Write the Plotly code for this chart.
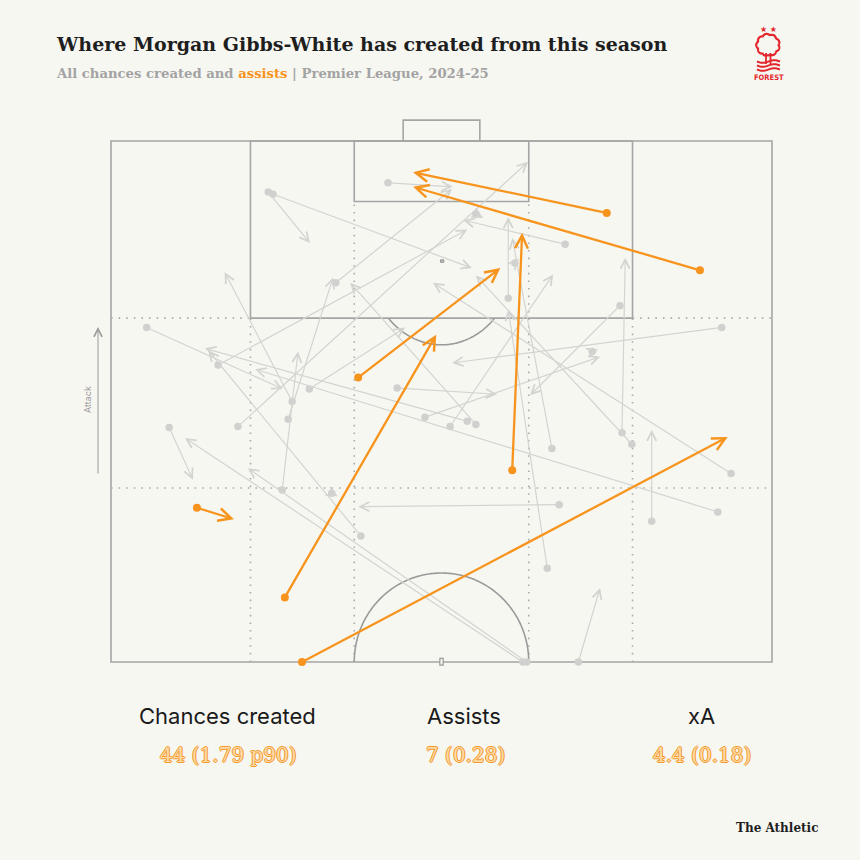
import numpy as np
import plotly.graph_objects as go

# ---------------- DATA (Opta-style pitch coords: x 0-100 across, y 50-100 towards goal) -------------
# All chances created (non-assists): origin -> destination
chance_x0 = [23.8, 24.5, 41.9, 34.0, 19.2, 55.2, 68.7, 60.1, 66.7, 77.3, 51.3, 93.8, 55.2, 26.8, 27.4, 25.9,
             16.2, 5.4, 37.8, 91.8, 8.8, 62.3, 62.9, 67.8, 33.4, 92.4, 47.5, 43.3, 30.0, 72.8, 77.0, 78.8,
             53.9, 66.0, 81.8, 70.7, 61.1]
chance_y0 = [95.1, 94.9, 96.0, 86.4, 72.6, 93.0, 90.1, 84.9, 70.5, 72.0, 72.6, 68.1, 72.8, 73.3, 75.0, 66.5,
             78.5, 82.1, 62.1, 64.4, 72.5, 50.0, 50.0, 65.1, 66.2, 82.1, 73.5, 76.3, 76.2, 79.8, 84.2, 70.9,
             73.1, 59.0, 63.5, 50.0, 88.3]
chance_x1 = [30.1, 54.6, 51.7, 51.6, 63.1, 56.3, 53.3, 60.1, 60.7, 77.8, 66.9, 48.7, 36.2, 33.6, 17.2, 28.3,
             53.9, 26.0, 14.7, 21.8, 12.4, 11.2, 20.7, 37.4, 34.3, 51.6, 74.0, 58.4, 44.5, 73.7, 63.4, 55.2,
             14.2, 60.1, 81.8, 74.0, 61.7]
chance_y1 = [90.2, 87.8, 95.6, 95.4, 98.0, 92.6, 92.4, 92.7, 90.7, 88.8, 87.2, 86.4, 86.4, 86.9, 87.4, 79.8,
             91.5, 76.2, 79.9, 78.1, 67.5, 71.5, 68.6, 64.9, 65.9, 78.7, 79.3, 75.7, 82.1, 80.0, 75.6, 87.1,
             80.1, 83.8, 72.3, 57.1, 88.7]

# Assists: origin -> destination
assist_x0 = [75.0, 89.1, 37.4, 26.3, 60.7, 13.0, 28.9]
assist_y0 = [93.1, 87.6, 77.3, 56.2, 68.4, 64.8, 50.0]
assist_x1 = [45.7, 45.7, 58.9, 49.2, 62.2, 18.6, 93.3]
assist_y1 = [97.0, 95.6, 87.8, 81.4, 91.2, 63.7, 71.6]

stat_labels = ["Chances created", "Assists", "xA"]
stat_values = ["44 (1.79 p90)", "7 (0.28)", "4.4 (0.18)"]

title_text = "Where Morgan Gibbs-White has created from this season"
subtitle_parts = ["All chances created and ", "assists", " | Premier League, 2024-25"]

# ---------------- STYLE -------------
BG = "#f7f7f2"
ORANGE = "#f7941d"
GREY_LINE = "#d3d3d1"
GREY_DOT = "#d0d0ce"
PITCH = "#a5a5a5"
RED = "#e3262d"
W, H = 860, 860
OFF = 8  # page body margin in the browser

# axis mapping so the pitch sits at window pixels x 111..772, y 141..662
SX, SY = 6.61, 10.42
XR = [-(111 - OFF) / SX, (W - (111 - OFF)) / SX]
YR = [100 - (H - (141 - OFF)) / SY, 100 + (141 - OFF) / SY]

def px(xp):
    return (xp - OFF) / W

def py(yp):
    return 1 - (yp - OFF) / H

fig = go.Figure()

shapes = []
line_solid = dict(color=PITCH, width=1.6)
line_dot = dict(color="#ababab", width=1.6, dash="1.6px,6px")

# outer pitch + boxes + goal
shapes.append(dict(type="rect", x0=0, x1=100, y0=50, y1=100, line=line_solid, layer="below"))
shapes.append(dict(type="rect", x0=21.1, x1=78.9, y0=83, y1=100, line=line_solid, layer="below"))
shapes.append(dict(type="rect", x0=36.8, x1=63.2, y0=94.2, y1=100, line=line_solid, layer="below"))
shapes.append(dict(type="path", path="M 44.2,100 L 44.2,102 L 55.8,102 L 55.8,100",
                   line=line_solid, layer="below"))

# dotted zone lines
for seg in [((0, 83), (21.1, 83)), ((78.9, 83), (100, 83)), ((0, 66.7), (100, 66.7)),
            ((21.1, 50), (21.1, 83)), ((78.9, 50), (78.9, 83)),
            ((36.8, 50), (36.8, 94.2)), ((63.2, 50), (63.2, 94.2))]:
    (a, b), (c, d) = seg
    shapes.append(dict(type="line", x0=a, y0=b, x1=c, y1=d, line=line_dot, layer="below"))

# penalty arc (D)
t = np.linspace(0, np.pi, 200)
ax_ = 50 + 11.0 * np.cos(t)
ay_ = 88.5 - 8.06 * np.sin(t)
m = ay_ <= 83
pts = list(zip(ax_[m], ay_[m]))
shapes.append(dict(type="path", path="M " + " L ".join(f"{a:.3f},{b:.3f}" for a, b in pts),
                   line=dict(color="#9a9a9a", width=1.6), layer="below"))
# centre circle (upper half)
cx = 50 + 13.2 * np.cos(t)
cy = 50 + 8.54 * np.sin(t)
shapes.append(dict(type="path", path="M " + " L ".join(f"{a:.3f},{b:.3f}" for a, b in zip(cx, cy)),
                   line=dict(color="#9a9a9a", width=1.6), layer="below"))
# penalty spot and centre spot markers
shapes.append(dict(type="rect", x0=49.85, x1=50.35, y0=88.35, y1=88.6, line=dict(color="#999", width=1),
                   fillcolor="#bbb", layer="below"))
shapes.append(dict(type="rect", x0=49.75, x1=50.25, y0=49.7, y1=50.35, line=dict(color="#999", width=1.2),
                   fillcolor=BG, layer="above"))

# ---------------- Logo (Nottingham Forest crest, simplified) -------------
th = np.linspace(0, 2 * np.pi, 241)
rr = 10.5 + 1.3 * np.abs(np.sin(4.5 * th))
lx = 768 + rr * np.cos(th)
ly = 45 - rr * np.sin(th) * 0.95
crown = [(a, b) for a, b in zip(lx, ly) if b < 55.5]
shapes.append(dict(type="path", xref="paper", yref="paper",
                   path="M " + " L ".join(f"{px(a):.5f},{py(b):.5f}" for a, b in crown) + " Z",
                   line=dict(color=RED, width=2.2), fillcolor=BG, layer="above"))
for xx in (766, 770.5):
    shapes.append(dict(type="line", xref="paper", yref="paper", x0=px(xx), x1=px(xx), y0=py(53), y1=py(64),
                       line=dict(color=RED, width=1.8), layer="above"))
for yy in (61.5, 65.5, 69.5):
    wx = np.linspace(757, 780, 30)
    wy = yy + 1.3 * np.sin((wx - 757) / 23 * 2 * np.pi)
    shapes.append(dict(type="path", xref="paper", yref="paper",
                       path="M " + " L ".join(f"{px(a):.5f},{py(b):.5f}" for a, b in zip(wx, wy)),
                       line=dict(color=RED, width=2), layer="above"))

# ---------------- Chance traces -------------
fig.add_trace(go.Scatter(x=chance_x0, y=chance_y0, mode="markers",
                         marker=dict(color=GREY_DOT, size=7.5, line=dict(width=0)),
                         hoverinfo="skip", showlegend=False))

annotations = []
for x0, y0, x1, y1 in zip(chance_x0, chance_y0, chance_x1, chance_y1):
    annotations.append(dict(x=x1, y=y1, ax=x0, ay=y0, xref="x", yref="y", axref="x", ayref="y",
                            text="", showarrow=True, arrowhead=5, arrowsize=1.5, arrowwidth=1.2,
                            arrowcolor=GREY_LINE, standoff=0, startstandoff=0))
for x0, y0, x1, y1 in zip(assist_x0, assist_y0, assist_x1, assist_y1):
    annotations.append(dict(x=x1, y=y1, ax=x0, ay=y0, xref="x", yref="y", axref="x", ayref="y",
                            text="", showarrow=True, arrowhead=5, arrowsize=1.1, arrowwidth=2.3,
                            arrowcolor=ORANGE, standoff=0, startstandoff=0))

fig.add_trace(go.Scatter(x=assist_x0, y=assist_y0, mode="markers",
                         marker=dict(color=ORANGE, size=8, line=dict(width=0)),
                         hoverinfo="skip", showlegend=False))

# ---------------- Text -------------
annotations.append(dict(xref="paper", yref="paper", x=px(54), y=py(44), xanchor="left", yanchor="middle",
                        text="<b>" + title_text + "</b>", showarrow=False,
                        font=dict(family="DejaVu Serif", size=19, color="#1e1e1e")))
annotations.append(dict(xref="paper", yref="paper", x=px(54), y=py(73), xanchor="left", yanchor="middle",
                        text="<b>" + subtitle_parts[0] + f"<span style='color:{ORANGE}'>" + subtitle_parts[1]
                             + "</span>" + subtitle_parts[2] + "</b>",
                        showarrow=False, font=dict(family="DejaVu Serif", size=13.2, color="#a3a3a3")))

# Logo text
annotations.append(dict(xref="paper", yref="paper", x=px(768), y=py(30), xanchor="center", yanchor="middle",
                        text="★ ★", showarrow=False, font=dict(family="DejaVu Sans", size=8, color=RED)))
annotations.append(dict(xref="paper", yref="paper", x=px(768.5), y=py(77), xanchor="center", yanchor="middle",
                        text="<b>FOREST</b>", showarrow=False,
                        font=dict(family="DejaVu Sans Condensed", size=7.5, color=RED)))

# Attack indicator
annotations.append(dict(xref="paper", yref="paper", x=px(98), y=py(327), axref="pixel", ayref="pixel",
                        ax=0, ay=148, text="", showarrow=True, arrowhead=5, arrowsize=1.6, arrowwidth=1,
                        arrowcolor="#9a9a9a", standoff=0))
annotations.append(dict(xref="paper", yref="paper", x=px(88), y=py(400), xanchor="center", yanchor="middle",
                        text="Attack", textangle=-90, showarrow=False,
                        font=dict(family="Inter", size=9, color="#9a9a9a")))

# Stats
stat_x = [227, 464, 701]
for sx, lab, val in zip(stat_x, stat_labels, stat_values):
    annotations.append(dict(xref="paper", yref="paper", x=px(sx), y=py(716), xanchor="center",
                            yanchor="middle", text=lab, showarrow=False,
                            font=dict(family="Inter", size=22, color="#1a1a1a")))
    annotations.append(dict(xref="paper", yref="paper", x=px(sx + 1), y=py(755), xanchor="center",
                            yanchor="middle", text=val, showarrow=False,
                            font=dict(family="DejaVu Serif", size=20, color="#fcd9a6",
                                      shadow="1px 0 0 #f59a2c, -1px 0 0 #f59a2c, 0 1px 0 #f59a2c, 0 -1px 0 #f59a2c")))

annotations.append(dict(xref="paper", yref="paper", x=px(820), y=py(828), xanchor="right", yanchor="middle",
                        text="<b>The Athletic</b>", showarrow=False,
                        font=dict(family="DejaVu Serif", size=12, color="#1e1e1e")))

fig.update_layout(
    width=W, height=H, autosize=False,
    margin=dict(l=0, r=0, t=0, b=0, pad=0),
    paper_bgcolor=BG, plot_bgcolor=BG,
    xaxis=dict(range=XR, visible=False, fixedrange=True),
    yaxis=dict(range=YR, visible=False, fixedrange=True),
    shapes=shapes, annotations=annotations, showlegend=False,
)

fig.write_html("out.html", post_script=f"document.body.style.background='{BG}';")
